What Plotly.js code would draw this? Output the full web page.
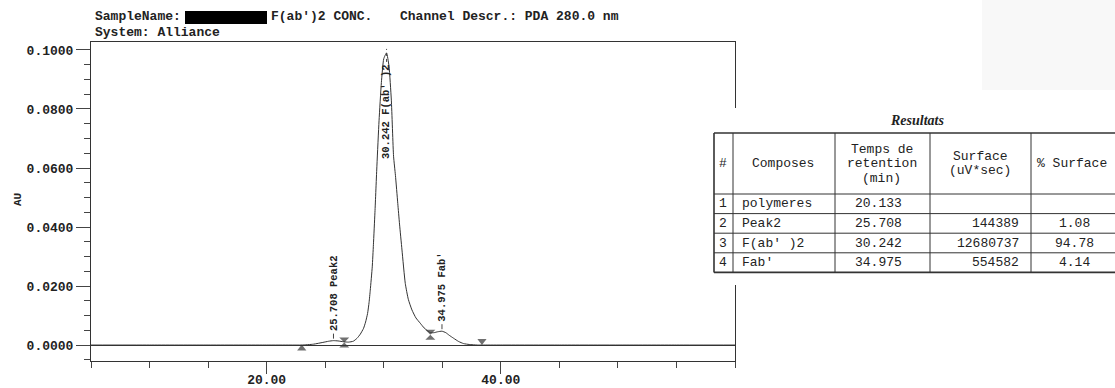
<!DOCTYPE html>
<html>
<head>
<meta charset="utf-8">
<script src="https://cdn.plot.ly/plotly-3.0.1.min.js"></script>
<style>html,body{margin:0;padding:0;background:#fff;}#chart{width:1115px;height:388px;}</style>
</head>
<body>
<div id="chart"></div>
<script>
// ---- chromatogram ----
const timeMin = [5, 10, 15, 20, 22, 23, 24, 24.8, 25.3, 25.7, 26.1, 26.6, 27.0, 27.4, 27.72, 28.0, 28.28, 28.45, 28.62, 28.75, 28.85, 29.02, 29.12, 29.25, 29.42, 29.6, 29.8, 30.0, 30.24, 30.45, 30.65, 30.84, 31.0, 31.2, 31.35, 31.56, 31.84, 32.1, 32.41, 32.75, 33.12, 33.45, 33.69, 33.98, 34.3, 34.6, 34.97, 35.3, 35.6, 35.97, 36.4, 36.82, 37.3, 38.0, 38.4, 40, 45, 50, 55, 60];
const absorbanceAU = [0, 0, 0, 0, 0, 0, 0.0003, 0.0009, 0.0013, 0.0015, 0.0014, 0.0011, 0.0010, 0.0013, 0.0023, 0.0037, 0.0057, 0.0078, 0.0107, 0.0145, 0.0186, 0.0265, 0.0340, 0.0450, 0.0610, 0.0760, 0.0890, 0.0970, 0.0990, 0.0945, 0.0830, 0.0640, 0.0575, 0.0480, 0.0410, 0.0322, 0.0209, 0.0155, 0.0119, 0.0092, 0.0074, 0.0058, 0.0050, 0.0042, 0.0042, 0.0045, 0.0047, 0.0042, 0.0033, 0.0023, 0.0012, 0.0005, 0.0002, 0, 0, 0, 0, 0, 0, 0];

// integration markers
const markTimes = [23.0, 26.63, 33.98, 38.39];
const markAU = [-0.0012, 0.0009, 0.0035, 0.0014];
const markKinds = ['start', 'split', 'split', 'end'];

// peak labels
const peakTimes = [25.708, 30.242, 34.975];
const peakNames = ['Peak2', "F(ab' )2", "Fab'"];
const peakHeights = [0.0015, 0.0990, 0.0047];

// axes ticks
const xTickVals = [20, 40];
const xTickText = ['20.00', '40.00'];
const xMinorVals = [5, 10, 15, 25, 30, 35, 45, 50, 55, 60];
const yTickVals = [0, 0.02, 0.04, 0.06, 0.08, 0.10];
const yTickText = ['0.0000', '0.0200', '0.0400', '0.0600', '0.0800', '0.1000'];
const yMinorVals = [-0.005, 0.005, 0.01, 0.015, 0.025, 0.03, 0.035, 0.045, 0.05, 0.055, 0.065, 0.07, 0.075, 0.085, 0.09, 0.095];

// header text
const sampleLabel = 'SampleName:';
const sampleName = "F(ab')2 CONC.";
const channelText = 'Channel Descr.: PDA 280.0 nm';
const systemText = 'System: Alliance';
const yTitle = 'AU';

// results table
const tableTitle = 'Resultats';
const headerLines = [['#'], ['Composes'], ['Temps de', 'retention', '(min)'], ['Surface', '(uV*sec)'], ['% Surface']];
const rowNum = ['1', '2', '3', '4'];
const compounds = ['polymeres', 'Peak2', "F(ab' )2", "Fab'"];
const retTimes = ['20.133', '25.708', '30.242', '34.975'];
const areas = ['', '144389', '12680737', '554582'];
const pctArea = ['', '1.08', '94.78', '4.14'];

// ---- layout helpers ----
const W = 1115, H = 388, ML = 91, MR = 380, MT = 42, MB = 27;
const PW = W - ML - MR, PH = H - MT - MB;
const Y0 = -0.0054, Y1 = 0.1027;
const auPerPx = (Y1 - Y0) / PH;
const px = v => (v - ML) / PW;
const py = v => (H - MB - v) / PH;
const MONO = 'Liberation Mono, Courier New, monospace';
const INK = '#222';
const LINE = '#333';

const traces = [];
traces.push({
  x: timeMin, y: absorbanceAU, type: 'scatter', mode: 'lines',
  line: {color: '#333', width: 1, shape: 'spline', smoothing: 0.5},
  hoverinfo: 'skip'
});
const symFor = {start: 'triangle-up', split: 'hourglass', end: 'triangle-down'};
const sizeFor = {start: 8, split: 10, end: 8};
traces.push({
  x: markTimes, y: markAU, type: 'scatter', mode: 'markers',
  marker: {symbol: markKinds.map(k => symFor[k]), size: markKinds.map(k => sizeFor[k]), color: '#333', line: {width: 0}},
  hoverinfo: 'skip'
});

const annotations = [];
const shapes = [];

function txt(text, x, y, opts) {
  annotations.push(Object.assign({
    text: text, x: px(x), y: py(y), xref: 'paper', yref: 'paper', showarrow: false,
    xanchor: 'left', yanchor: 'middle', font: {family: MONO, size: 13, color: INK}
  }, opts || {}));
}
txt('<b>' + sampleLabel + '</b>', 93, 17);
shapes.push({type: 'rect', xref: 'paper', yref: 'paper', x0: px(185), x1: px(267), y0: py(11), y1: py(24), fillcolor: '#000', line: {width: 0}, layer: 'above'});
txt('<b>' + sampleName + '</b>', 269, 17);
txt('<b>' + channelText + '</b>', 398, 17);
txt('<b>' + systemText + '</b>', 93, 33);
txt('<b>' + yTitle + '</b>', 18, 200, {xanchor: 'center', textangle: -90, font: {family: MONO, size: 11, color: INK}});

// faint scanner shading top-right
shapes.push({type: 'rect', xref: 'paper', yref: 'paper', x0: px(982), x1: px(1115), y0: py(0), y1: py(90), fillcolor: '#f8f8f8', line: {width: 0}, layer: 'below'});

// peak labels
peakTimes.forEach((t, i) => {
  const label = '<b>' + t.toFixed(3) + ' ' + peakNames[i] + '</b>';
  const h = peakHeights[i];
  if (h > 0.05) {
    annotations.push({
      text: label, x: t, y: h, xref: 'x', yref: 'y', showarrow: false,
      textangle: -90, xanchor: 'center', yanchor: 'top', yshift: -9,
      font: {family: MONO, size: 10.5, color: INK}
    });
    shapes.push({type: 'line', xref: 'x', yref: 'y', x0: t, x1: t, y0: h - 9 * auPerPx, y1: h + 4 * auPerPx,
      line: {color: '#444', width: 1, dash: 'dot'}});
  } else {
    annotations.push({
      text: label, x: t, y: h, xref: 'x', yref: 'y', showarrow: false,
      textangle: -90, xanchor: 'center', yanchor: 'bottom', yshift: 8,
      font: {family: MONO, size: 10.5, color: INK}
    });
    shapes.push({type: 'line', xref: 'x', yref: 'y', x0: t, x1: t, y0: h + 2 * auPerPx, y1: h + 7 * auPerPx,
      line: {color: '#444', width: 1}});
  }
});

// results table
const TL = 714, TR = 1118, TT = 133, HB = 194, RH = 19.6;
const colX = [714, 733, 835, 930, 1031];
shapes.push({type: 'rect', xref: 'paper', yref: 'paper', x0: px(700), x1: px(1116), y0: py(108), y1: py(285), fillcolor: '#fff', line: {width: 0}, layer: 'above'});
txt('<b><i>' + tableTitle + '</i></b>', 917, 121, {xanchor: 'center', font: {family: 'Liberation Serif, Times New Roman, serif', size: 14, color: INK}});
const TB = HB + RH * rowNum.length;
[TT, TB].forEach(y => shapes.push({type: 'line', xref: 'paper', yref: 'paper', x0: px(TL), x1: px(TR), y0: py(y), y1: py(y), line: {color: LINE, width: 1.6}, layer: 'above'}));
for (let r = 0; r < rowNum.length; r++) {
  const y = HB + RH * r;
  shapes.push({type: 'line', xref: 'paper', yref: 'paper', x0: px(TL), x1: px(TR), y0: py(y), y1: py(y), line: {color: LINE, width: 1}, layer: 'above'});
}
colX.forEach((x, i) => shapes.push({type: 'line', xref: 'paper', yref: 'paper', x0: px(x), x1: px(x), y0: py(TT), y1: py(TB), line: {color: LINE, width: i === 0 ? 1.6 : 1}, layer: 'above'}));

const headCenters = [723, 783, 882, 980, 1035];
headerLines.forEach((lines, c) => {
  const lh = 14.5;
  const mid = (TT + HB) / 2;
  lines.forEach((line, k) => {
    const y = mid + (k - (lines.length - 1) / 2) * lh;
    txt(line, headCenters[c], y, {xanchor: c === 4 ? 'left' : 'center', font: {family: MONO, size: 13, color: INK}});
  });
});
rowNum.forEach((n, r) => {
  const y = HB + RH * r + RH / 2;
  const f = {family: MONO, size: 13, color: INK};
  txt(n, 723, y, {xanchor: 'center', font: f});
  txt(compounds[r], 740, y, {xanchor: 'left', font: f});
  txt(retTimes[r], 878, y, {xanchor: 'center', font: f});
  if (areas[r]) txt(areas[r], 1021, y, {xanchor: 'right', font: f});
  if (pctArea[r]) txt(pctArea[r], 1074, y, {xanchor: 'center', font: f});
});

const layout = {
  width: W, height: H,
  margin: {l: ML, r: MR, t: MT, b: MB, pad: 0},
  paper_bgcolor: '#fff', plot_bgcolor: '#fff',
  showlegend: false,
  xaxis: {
    range: [5, 60], showgrid: false, zeroline: false,
    showline: true, linecolor: LINE, linewidth: 1, mirror: true,
    tickmode: 'array', tickvals: xTickVals, ticktext: xTickText,
    ticks: 'outside', ticklen: 12, tickwidth: 1, tickcolor: '#444',
    ticklabelstandoff: -6,
    tickfont: {family: MONO, size: 13, color: INK, weight: 'bold'},
    minor: {tickmode: 'array', tickvals: xMinorVals, ticks: 'outside', ticklen: 6, tickwidth: 1, tickcolor: '#444', showgrid: false}
  },
  yaxis: {
    range: [Y0, Y1], showgrid: false,
    zeroline: true, zerolinecolor: LINE, zerolinewidth: 1,
    showline: true, linecolor: LINE, linewidth: 1, mirror: true,
    tickmode: 'array', tickvals: yTickVals, ticktext: yTickText,
    ticks: 'outside', ticklen: 14, tickwidth: 1, tickcolor: '#444',
    tickfont: {family: MONO, size: 13, color: INK, weight: 'bold'},
    minor: {tickmode: 'array', tickvals: yMinorVals, ticks: 'outside', ticklen: 6, tickwidth: 1, tickcolor: '#444', showgrid: false}
  },
  annotations: annotations,
  shapes: shapes
};

Plotly.newPlot('chart', traces, layout, {staticPlot: true, displayModeBar: false});
</script>
</body>
</html>
